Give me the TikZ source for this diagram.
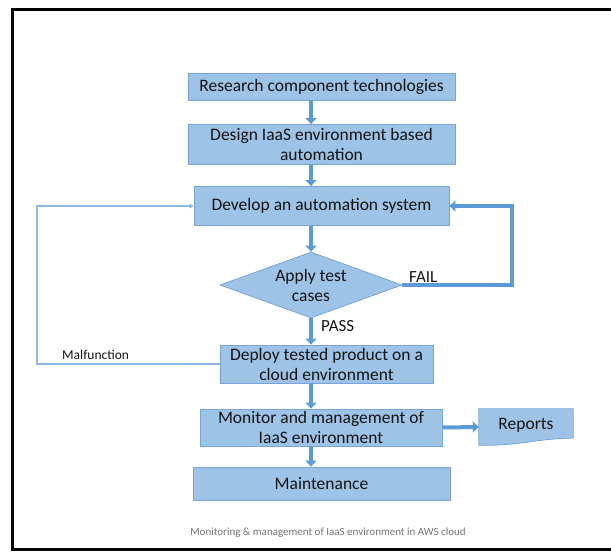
\documentclass[tikz,border=0pt]{standalone}
\usepackage{fontspec}
\setmainfont{Carlito}
\usetikzlibrary{arrows.meta,shapes.geometric}
\definecolor{boxfill}{RGB}{157,195,230}
\definecolor{boxline}{RGB}{120,165,215}
\definecolor{arrowc}{RGB}{91,155,213}
\definecolor{thinc}{RGB}{140,185,225}
\definecolor{txt}{RGB}{20,20,20}
\begin{document}
\begin{tikzpicture}[x=1pt,y=-1pt,
  box/.style={draw=boxline, line width=0.8pt, fill=boxfill, align=center,
    font=\fontsize{17.5}{20}\selectfont, text=txt, inner sep=0pt},
  flow/.style={draw=arrowc, line width=4pt, -{Triangle[width=11pt,length=6pt]}},
  loopline/.style={draw=arrowc, line width=4pt},
  thinline/.style={draw=thinc, line width=1.2pt},
  lbl/.style={font=\fontsize{17}{20}\selectfont, text=txt, inner sep=0pt},
]
\useasboundingbox (0,0) rectangle (611,553);
\draw[line width=3pt] (12,10) rectangle (640,549);

\node[box, minimum width=267pt, minimum height=27pt] (b1) at (321.5,86.5) {Research component technologies};
\node[box, minimum width=267pt, minimum height=40pt] (b2) at (321.5,144.5) {Design IaaS environment based\\automation};
\node[box, minimum width=255pt, minimum height=39pt] (b3) at (321.5,206) {Develop an automation system};
\node[box, shape=diamond, aspect=2.76, minimum width=182pt, minimum height=66pt] (d) at (311,285) {Apply test\\cases};
\node[box, minimum width=213pt, minimum height=38pt] (b4) at (326.5,364) {Deploy tested product on a\\cloud environment};
\node[box, minimum width=242pt, minimum height=37pt] (b5) at (321,427.5) {Monitor and management of\\IaaS environment};
\node[box, minimum width=257pt, minimum height=33pt] (b6) at (321.5,483.5) {Maintenance};

% Reports document shape
\node[inner sep=0pt, minimum width=94pt, minimum height=36pt] (rep) at (526,427) {};
\filldraw[fill=boxfill, draw=boxline, line width=0.8pt]
  (rep.north west) -- (rep.north east) -- ([yshift=7pt]rep.south east)
  .. controls ([xshift=-35pt,yshift=7pt]rep.south east) and ([xshift=40pt,yshift=-1pt]rep.south west) .. (rep.south west) -- cycle;
\node[font=\fontsize{17.5}{20}\selectfont, text=txt, inner sep=0pt] (reptext) at (526,425) {Reports};

% main flow
\draw[flow] (b1.south -| d.center) -- (b2.north -| d.center);
\draw[flow] (b2.south -| d.center) -- (b3.north -| d.center);
\draw[flow] (b3.south -| d.center) -- (d.north);
\draw[flow] (d.south) -- (b4.north -| d.center);
\draw[flow] (b4.south -| d.center) -- (b5.north -| d.center);
\draw[flow] (b5.south -| d.center) -- (b6.north -| d.center);
\draw[flow] (b5.east) -- (rep.west);

% FAIL loop
\coordinate (fr) at (512,285);
\draw[loopline, -{Triangle[width=11pt,length=6pt]}] (d.east) -- (fr) -- (fr |- b3.east) -- (b3.east);

% Malfunction loop
\coordinate (ml) at (37,364);
\draw[thinline, -{Triangle[width=5pt,length=4pt]}] (b4.west) -- (ml) -- (ml |- b3.west) -- (b3.west);

% labels
\node[lbl, anchor=west] (fail) at (409,277) {FAIL};
\node[lbl, anchor=west] (pass) at (321,326) {PASS};
\node[font=\fontsize{13.5}{16}\selectfont, text=txt, inner sep=0pt, anchor=west] (malf) at (62,355) {Malfunction};
\node[font=\fontsize{11}{13}\selectfont, text=black!55, inner sep=0pt] (cap) at (328,533) {Monitoring \& management of IaaS environment in AWS cloud};
\end{tikzpicture}
\end{document}
